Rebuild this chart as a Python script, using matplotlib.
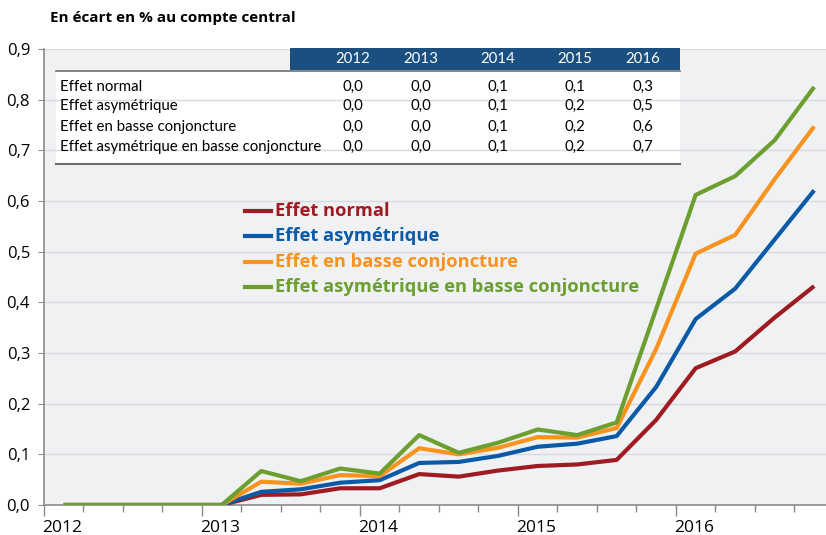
#  Python Libraries
import matplotlib
matplotlib.use('Agg')
import matplotlib.pyplot as plt
from matplotlib.patches import Rectangle
from matplotlib.ticker import FuncFormatter, MultipleLocator


#  Chart data (quarterly, 2012Q1 - 2016Q4)
years = ['2012', '2013', '2014', '2015', '2016']
series_names = ['Effet normal',
                'Effet asymétrique',
                'Effet en basse conjoncture',
                'Effet asymétrique en basse conjoncture']

effet_normal = [0.0, 0.0, 0.0, 0.0, 0.0, 0.020, 0.021, 0.033, 0.033, 0.061,
                0.056, 0.068, 0.077, 0.080, 0.089, 0.168, 0.270, 0.303, 0.370, 0.432]
effet_asym = [0.0, 0.0, 0.0, 0.0, 0.0, 0.026, 0.031, 0.044, 0.049, 0.083,
              0.085, 0.097, 0.115, 0.121, 0.136, 0.233, 0.367, 0.427, 0.524, 0.621]
effet_basse = [0.0, 0.0, 0.0, 0.0, 0.0, 0.046, 0.042, 0.059, 0.057, 0.112,
               0.100, 0.113, 0.134, 0.133, 0.152, 0.308, 0.496, 0.533, 0.643, 0.747]
effet_asym_basse = [0.0, 0.0, 0.0, 0.0, 0.0, 0.067, 0.047, 0.072, 0.062, 0.138,
                    0.103, 0.123, 0.149, 0.138, 0.163, 0.387, 0.612, 0.649, 0.720, 0.825]

#  Annual table values
table_values = [['0,0', '0,0', '0,1', '0,1', '0,3'],
                ['0,0', '0,0', '0,1', '0,2', '0,5'],
                ['0,0', '0,0', '0,1', '0,2', '0,6'],
                ['0,0', '0,0', '0,1', '0,2', '0,7']]

colors = ['#9e1b22', '#0b5aa8', '#f7931e', '#6c9f30']

W, H = 826, 535


def fx(px):
    return px / float(W)


def fy(py):
    return 1.0 - py / float(H)


def comma(v, pos):
    return ('%.1f' % v).replace('.', ',')


def Draw_Table(fig, ax):

    #  White box + blue header
    ax.add_patch(Rectangle((fx(56), fy(164)), fx(680) - fx(56), fy(70) - fy(164),
                           transform=fig.transFigure, facecolor='white',
                           edgecolor='none', zorder=0.2, clip_on=False))
    ax.add_patch(Rectangle((fx(290), fy(70)), fx(680) - fx(290), fy(48) - fy(70),
                           transform=fig.transFigure, facecolor='#1b4f80',
                           edgecolor='none', zorder=3, clip_on=False))
    fig.add_artist(plt.Line2D([fx(56), fx(680)], [fy(71), fy(71)], color='#6d6e71', lw=1.2))
    fig.add_artist(plt.Line2D([fx(56), fx(680)], [fy(163.5), fy(163.5)], color='#6d6e71', lw=1.5))

    col_x = [353, 421, 498, 575, 643]
    row_y = [87, 106, 127, 147]

    for year, cx in zip(years, col_x):
        fig.text(fx(cx), fy(59), year, color='white', ha='center', va='center',
                 fontsize=10.8, family='Lato')

    for name, vals, ry in zip(series_names, table_values, row_y):
        fig.text(fx(60), fy(ry), name, color='black', ha='left', va='center',
                 fontsize=10.8, family='Lato')
        for v, cx in zip(vals, col_x):
            fig.text(fx(cx), fy(ry), v, color='black', ha='center', va='center',
                     fontsize=10.8, family='Lato')


if __name__ == '__main__':

    fig = plt.figure(figsize=(W / 100.0, H / 100.0), dpi=100)
    ax = fig.add_axes([fx(44), fy(505), fx(826) - fx(44), fy(49) - fy(505)])
    ax.set_facecolor('#f0f1f3')

    x = list(range(len(effet_normal)))
    all_series = [effet_normal, effet_asym, effet_basse, effet_asym_basse]

    #  Plot lines
    for i, data in enumerate(all_series):
        ax.plot(x, data, color=colors[i], lw=3, solid_capstyle='butt', zorder=4 + i)

    #  Axes configuration
    ax.set_xlim(-0.5, 19.3)
    ax.set_ylim(0, 0.9)
    ax.yaxis.set_major_locator(MultipleLocator(0.1))
    ax.yaxis.set_major_formatter(FuncFormatter(comma))
    ax.grid(axis='y', color='#d9dadd', lw=1)
    ax.set_axisbelow(True)

    for side in ['top', 'right']:
        ax.spines[side].set_visible(False)
    for side in ['left', 'bottom']:
        ax.spines[side].set_color('#8a8b8e')
        ax.spines[side].set_linewidth(1.2)

    #  Year boundaries as major ticks, quarters as minor ticks
    ax.set_xticks([-0.5 + 4 * k for k in range(5)])
    ax.set_xticklabels([])
    ax.set_xticks([0.5 + k for k in range(20) if (k + 1) % 4 != 0], minor=True)
    ax.tick_params(axis='x', which='major', length=8, color='#8a8b8e', width=1)
    ax.tick_params(axis='x', which='minor', length=5, color='#8a8b8e', width=1)
    ax.tick_params(axis='y', length=4, color='#8a8b8e', labelsize=12, pad=6)
    for lab in ax.get_yticklabels():
        lab.set_family('Open Sans')

    for k, year in enumerate(years):
        ax.text(4 * k - 0.05, -0.045, year, ha='center', va='center',
                fontsize=12.5, family='Open Sans', transform=ax.transData, clip_on=False)

    #  Title
    fig.text(fx(50), fy(18), 'En écart en % au compte central', fontsize=11,
             fontweight='bold', family='Open Sans', va='center', ha='left')

    #  Table
    Draw_Table(fig, ax)

    #  Legend
    leg_y = [211, 236, 262, 287]
    for i, name in enumerate(series_names):
        fig.add_artist(plt.Line2D([fx(245), fx(271)], [fy(leg_y[i]), fy(leg_y[i])],
                                  color=colors[i], lw=3))
        fig.text(fx(275), fy(leg_y[i]), name, color=colors[i], fontsize=13.2,
                 fontweight='bold', family='Open Sans', va='center', ha='left')

    plt.savefig('out.png', dpi=100)
